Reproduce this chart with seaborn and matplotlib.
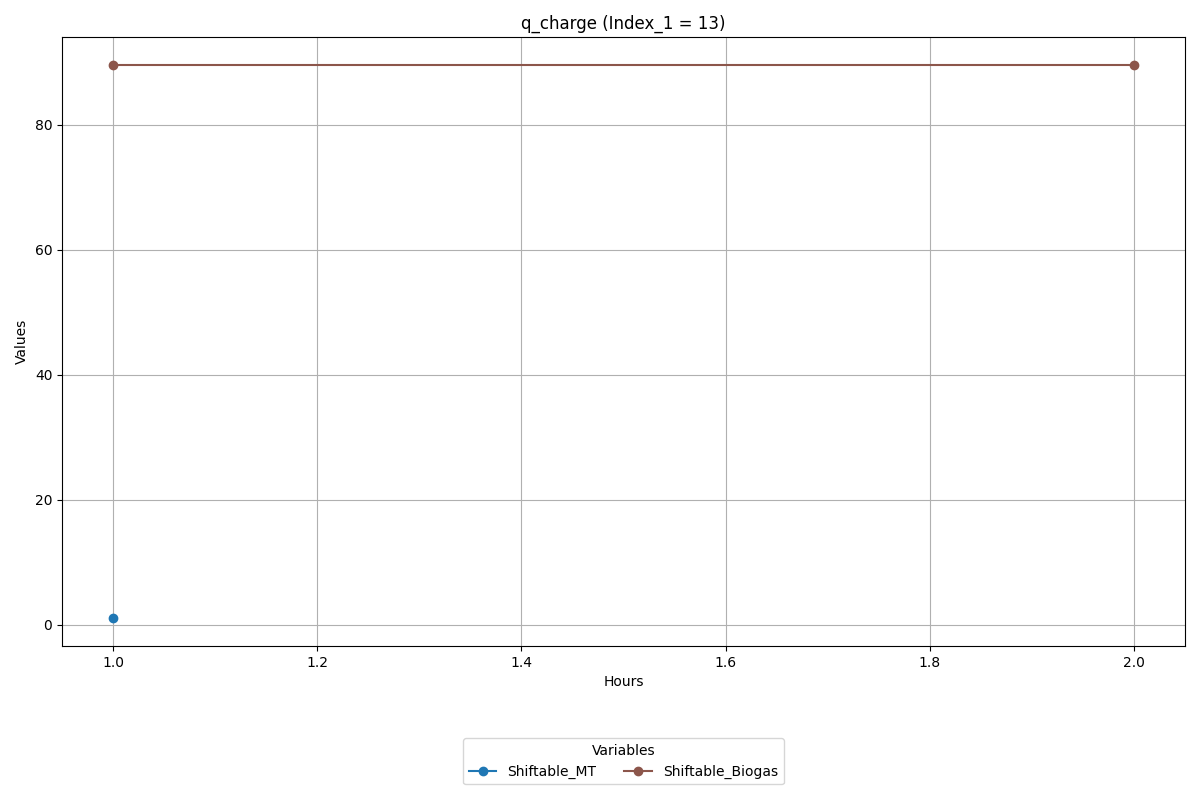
import matplotlib
matplotlib.use("Agg")
import matplotlib.pyplot as plt
import seaborn as sns
import pandas as pd

# data
variables = ["Shiftable_MT", "Shiftable_Biogas"]
hours_mt = [1.0]
values_mt = [1.0]
hours_biogas = [1.0, 2.0]
values_biogas = [89.6, 89.6]
colors = {"Shiftable_MT": "#1f77b4", "Shiftable_Biogas": "#8c564b"}

series = {
    "Shiftable_MT": (hours_mt, values_mt),
    "Shiftable_Biogas": (hours_biogas, values_biogas),
}

fig, ax = plt.subplots(figsize=(12, 8), dpi=100)

for name in variables:
    hrs, vals = series[name]
    df = pd.DataFrame({"Hours": hrs, "Values": vals})
    sns.lineplot(data=df, x="Hours", y="Values", ax=ax, marker="o",
                 color=colors[name], label=name, markersize=6,
                 markeredgecolor=colors[name], markeredgewidth=1)

ax.set_title("q_charge (Index_1 = 13)")
ax.set_xlabel("Hours")
ax.set_ylabel("Values")
ax.grid(True)
ax.legend(title="Variables", loc="upper center", bbox_to_anchor=(0.5, -0.14), ncol=2)
fig.subplots_adjust(left=0.0517, right=0.9875, top=0.95375, bottom=0.1925)
plt.savefig("out.png")
